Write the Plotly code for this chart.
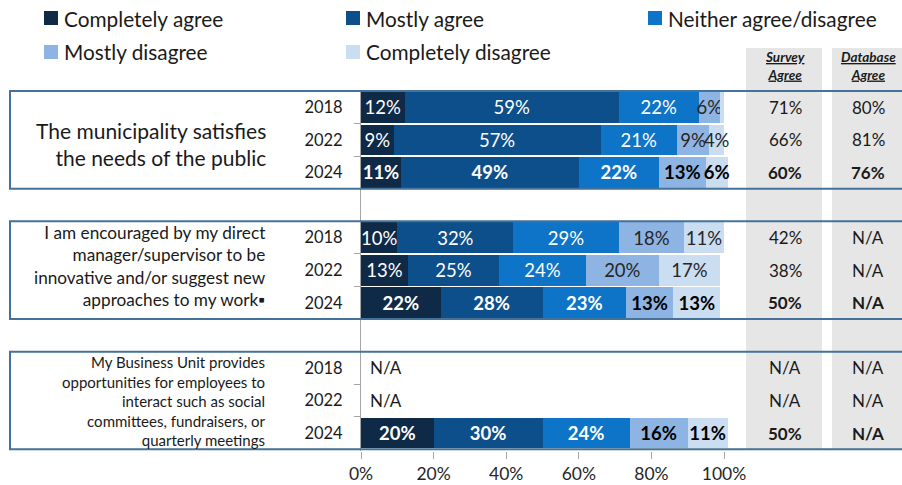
import plotly.graph_objects as go

# ---- data ---------------------------------------------------------------
questions = [
    ["The municipality satisfies", "the needs of the public"],
    ["I am encouraged by my direct", "manager/supervisor to be",
     "innovative and/or suggest new", "approaches to my work▪"],
    ["My Business Unit provides", "opportunities for employees to",
     "interact such as social", "committees, fundraisers, or", "quarterly meetings"],
]
years = ["2018", "2022", "2024"]

categories = ["Completely agree", "Mostly agree", "Neither agree/disagree",
              "Mostly disagree", "Completely disagree"]

# one value per row: (question 1: 2018, 2022, 2024), (question 2 ...), (question 3 ...)
completely_agree = [12, 9, 11, 10, 13, 22, None, None, 20]
mostly_agree = [59, 57, 49, 32, 25, 28, None, None, 30]
neither = [22, 21, 22, 29, 24, 23, None, None, 24]
mostly_disagree = [6, 9, 13, 18, 20, 13, None, None, 16]
completely_disagree = [1, 4, 6, 11, 17, 13, None, None, 11]

survey_agree = ["71%", "66%", "60%", "42%", "38%", "50%", "N/A", "N/A", "50%"]
database_agree = ["80%", "81%", "76%", "N/A", "N/A", "N/A", "N/A", "N/A", "N/A"]

series = [completely_agree, mostly_agree, neither, mostly_disagree, completely_disagree]
colors = ["#0F2A47", "#0D4F8B", "#0E74C8", "#8EB4E3", "#CADDF1"]

# ---- geometry -----------------------------------------------------------
FONT = "Lato"
W, H = 902, 485
ML, MR, MT, MB = 361, 0, 91, 34
PW, PH = W - ML - MR, H - MT - MB
PX_PER_PCT = 3.63
X_MAX = PW / PX_PER_PCT
Y_TOP, Y_BOT = -0.5, 10.55

rows = [g * 4 + r for g in range(3) for r in range(3)]
tick_text = years * 3
bold_row = [r == 2 for g in range(3) for r in range(3)]


def py(pos):
    """row position -> paper y"""
    return (Y_BOT - pos) / (Y_BOT - Y_TOP)


def pxp(px):
    """pixel x -> paper x"""
    return (px - ML) / PW


def pyp(px):
    """pixel y -> paper y"""
    return (H - MB - px) / PH


fig = go.Figure()

for i, (name, vals, col) in enumerate(zip(categories, series, colors)):
    texts, tcolors = [], []
    for v, b in zip(vals, bold_row):
        if v is None or v < 3:
            texts.append("")
        elif b:
            texts.append(f"<b>{v}%</b>")
        else:
            texts.append(f"{v}%")
        if i < 3:
            tcolors.append("#FFFFFF")
        else:
            tcolors.append("#000000" if b else "#262626")
    fig.add_trace(go.Bar(
        name=name, x=vals, y=rows, orientation="h",
        marker=dict(color=col, line=dict(width=0)),
        text=texts, texttemplate="%{text}",
        textposition="inside", insidetextanchor="middle",
        constraintext="none", textangle=0,
        textfont=dict(family=FONT, size=18.5, color=tcolors),
        hoverinfo="skip", showlegend=False,
    ))

shapes = []
annotations = []

# grey comparison columns
SURVEY_X = (785 - ML) / PX_PER_PCT
DB_X = (868 - ML) / PX_PER_PCT
for x0px, x1px in [(746, 822), (832, 905)]:
    shapes.append(dict(type="rect", xref="paper", yref="paper",
                       x0=pxp(x0px), x1=pxp(x1px), y0=py(10.5), y1=pyp(48),
                       fillcolor="#E6E6E6", line=dict(width=0), layer="below"))

# boxes around each question
for g in range(3):
    shapes.append(dict(type="rect", xref="paper", yref="paper",
                       x0=pxp(10), x1=pxp(910), y0=py(g * 4 + 2.5), y1=py(g * 4 - 0.5),
                       fillcolor="rgba(0,0,0,0)", line=dict(color="#44729B", width=2),
                       layer="above"))

# question labels: (font size, centre y px)
q_style = [(21.0, 144), (17.2, 265.5), (15.0, 401)]
for g, lines in enumerate(questions):
    size, cy = q_style[g]
    annotations.append(dict(xref="paper", yref="paper", x=pxp(268), y=pyp(cy),
                            text="<br>".join(lines), showarrow=False,
                            xanchor="right", yanchor="middle", align="right",
                            font=dict(family=FONT, size=size, color="#1A1A1A")))

# side columns
for pos, s, d, b in zip(rows, survey_agree, database_agree, bold_row):
    for xv, t in [(SURVEY_X, s), (DB_X, d)]:
        annotations.append(dict(xref="x", yref="y", x=xv, y=pos,
                                text=f"<b>{t}</b>" if b else t, showarrow=False,
                                xanchor="center", yanchor="middle",
                                font=dict(family=FONT, size=17, color="#1A1A1A")))

for xv, t in [(SURVEY_X, "Survey"), (DB_X, "Database")]:
    annotations.append(dict(xref="x", yref="paper", x=xv, y=pyp(66),
                            text=f"<b><i><u>{t}</u></i></b><br><b><i><u>Agree</u></i></b>",
                            showarrow=False, xanchor="center", yanchor="middle",
                            font=dict(family=FONT, size=13.5, color="#1A1A1A")))

# N/A rows with no bar data
for pos, vals in zip(rows, zip(*series)):
    if all(v is None for v in vals):
        annotations.append(dict(xref="x", yref="y", x=0, y=pos, xshift=7,
                                text="N/A", showarrow=False, xanchor="left",
                                yanchor="middle",
                                font=dict(family=FONT, size=17, color="#1A1A1A")))

# legend, two rows of three
legend_cols = [44, 346, 648]
legend_rows = [18, 52]
for k, (name, col) in enumerate(zip(categories, colors)):
    cx = legend_cols[k % 3]
    cy = legend_rows[k // 3]
    shapes.append(dict(type="rect", xref="paper", yref="paper",
                       x0=pxp(cx), x1=pxp(cx + 14), y0=pyp(cy + 7), y1=pyp(cy - 7),
                       fillcolor=col, line=dict(width=0)))
    annotations.append(dict(xref="paper", yref="paper", x=pxp(cx + 18), y=pyp(cy),
                            text=name, showarrow=False, xanchor="left", yanchor="middle",
                            font=dict(family=FONT, size=20.8, color="#1A1A1A")))

fig.update_layout(
    width=W, height=H,
    margin=dict(l=ML, r=MR, t=MT, b=MB, pad=0),
    barmode="stack", bargap=0.06,
    paper_bgcolor="white", plot_bgcolor="rgba(0,0,0,0)",
    shapes=shapes, annotations=annotations, showlegend=False,
    xaxis=dict(range=[0, X_MAX], tickvals=[0, 20, 40, 60, 80, 100],
               ticktext=["0%", "20%", "40%", "60%", "80%", "100%"],
               ticks="outside", ticklen=7, tickcolor="#A6A6A6",
               showgrid=False, zeroline=False, showline=False,
               tickfont=dict(family=FONT, size=17.5, color="#262626")),
    yaxis=dict(range=[Y_BOT, Y_TOP], tickvals=rows, ticktext=tick_text,
               ticks="", showgrid=False, zeroline=False,
               showline=True, linecolor="#A6A6A6", linewidth=1,
               ticklabelstandoff=14, layer="below traces",
               minor=dict(tickmode="linear", tick0=0.5, dtick=1, ticks="outside",
                          ticklen=6, tickcolor="#A6A6A6", showgrid=False),
               tickfont=dict(family=FONT, size=16.5, color="#1A1A1A")),
)

fig.write_html("out.html")
